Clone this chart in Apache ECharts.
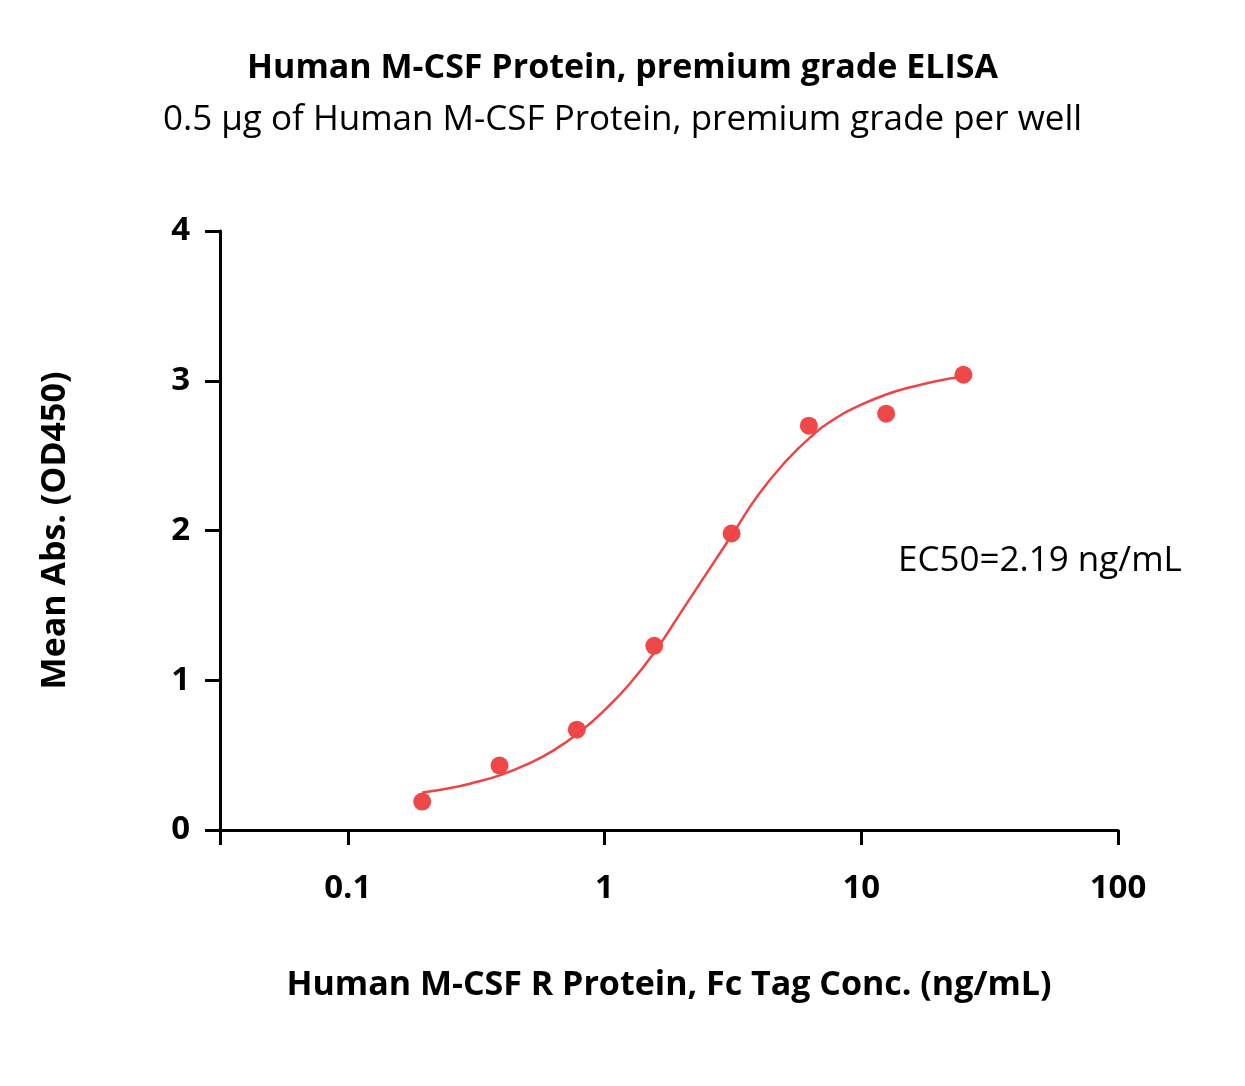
<!DOCTYPE html><html><head><meta charset="utf-8"><script src="https://cdn.jsdelivr.net/npm/echarts@6/dist/echarts.min.js"></script></head><body style="margin:0"><div id="c" style="width:1245px;height:1086px"></div><script>
const conc=[0.195,0.39,0.78,1.5625,3.125,6.25,12.5,25];
const od=[0.19,0.43,0.67,1.23,1.98,2.70,2.78,3.04];
const fitLogX=[-0.71,-0.6,-0.5,-0.4,-0.3,-0.2,-0.1,0,0.1,0.2,0.3,0.4,0.5,0.6,0.7,0.8,0.9,1.0,1.1,1.2,1.3,1.4];
const fitY=[0.25,0.28,0.32,0.37,0.44,0.53,0.65,0.80,0.98,1.20,1.46,1.72,1.98,2.24,2.45,2.62,2.75,2.84,2.91,2.96,3.0,3.03];
const F='"Open Sans", "Noto Sans", sans-serif';
const c=echarts.init(document.getElementById('c'));
c.setOption({
title:[{text:'Human M-CSF Protein, premium grade ELISA',left:'center',top:46,textStyle:{fontFamily:F,fontSize:34,fontWeight:'bold',color:'#000'}},
{text:'0.5 μg of Human M-CSF Protein, premium grade per well',left:'center',top:98,textStyle:{fontFamily:F,fontSize:35,fontWeight:'normal',color:'#000'}}],
grid:{left:220,right:127,top:231,bottom:256},
xAxis:{type:'log',logBase:10,min:0.0318,max:100,name:'Human M-CSF R Protein, Fc Tag Conc. (ng/mL)',nameLocation:'middle',nameGap:138,
nameTextStyle:{fontFamily:F,fontSize:34,fontWeight:'bold',color:'#000'},
axisLine:{lineStyle:{color:'#000',width:3}},axisTick:{length:15,lineStyle:{width:3,color:'#000'}},
axisLabel:{margin:42,fontFamily:F,fontSize:33,fontWeight:'bold',color:'#000',formatter:v=>{const l=Math.log10(v);return Math.abs(l-Math.round(l))<1e-6?String(+v.toPrecision(3)):''}},splitLine:{show:false}},
yAxis:{type:'value',min:0,max:4,interval:1,name:'Mean Abs. (OD450)',nameLocation:'middle',nameGap:148,
nameTextStyle:{fontFamily:F,fontSize:34,fontWeight:'bold',color:'#000'},
axisLine:{show:true,lineStyle:{color:'#000',width:3}},axisTick:{show:true,length:15,lineStyle:{width:3,color:'#000'}},
axisLabel:{margin:30,fontFamily:F,fontSize:33,fontWeight:'bold',color:'#000'},splitLine:{show:false}},
graphic:[{type:'text',left:898,top:544,style:{text:'EC50=2.19 ng/mL',font:'35px '+F,fill:'#000'}}],
series:[{type:'line',smooth:true,symbol:'none',data:fitLogX.map((l,i)=>[Math.pow(10,l),fitY[i]]),lineStyle:{color:'#ee4444',width:2.5}},
{type:'scatter',symbolSize:18,data:conc.map((x,i)=>[x,od[i]]),itemStyle:{color:'#f04848',opacity:1}}]
});
</script></body></html>
